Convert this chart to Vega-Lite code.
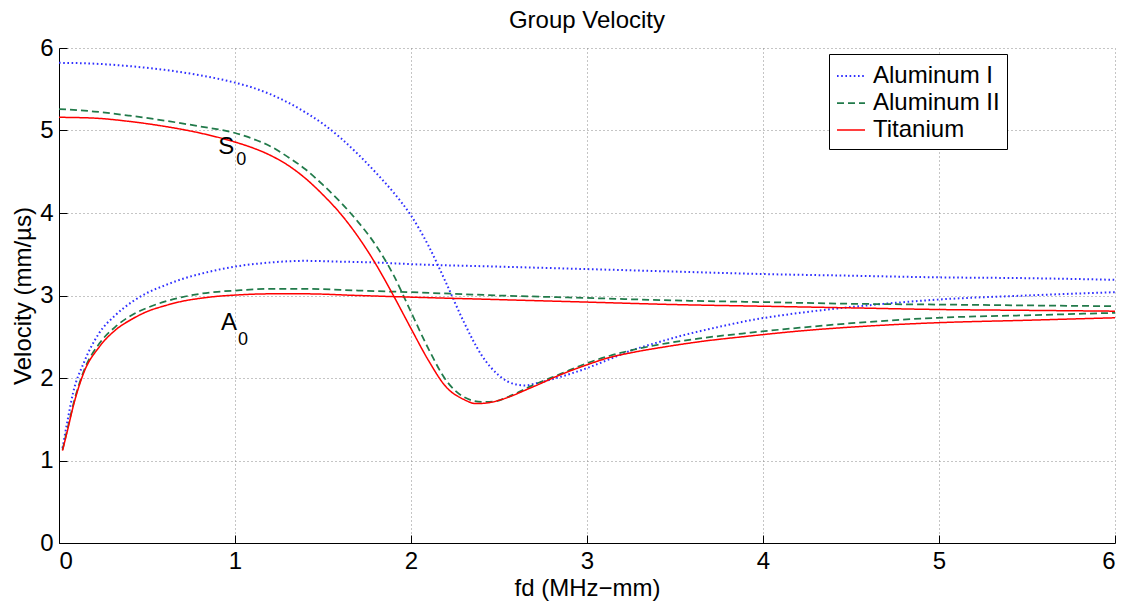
{
  "$schema": "https://vega.github.io/schema/vega-lite/v6.json",
  "autosize": {"type": "none"},
  "padding": {"left": 59, "top": 48, "right": 12, "bottom": 60},
  "width": 1056,
  "height": 495,
  "background": "white",
  "config": {
    "font": "Liberation Sans",
    "view": {"stroke": null},
    "axis": {
      "labelFont": "Liberation Sans",
      "labelFontSize": 24,
      "labelColor": "black",
      "titleFont": "Liberation Sans",
      "titleFontSize": 24,
      "titleFontWeight": "normal",
      "titleColor": "black",
      "domainColor": "black",
      "domainWidth": 1,
      "tickColor": "black",
      "tickSize": -8,
      "tickWidth": 1,
      "gridColor": "#8a8a8a",
      "gridDash": [1, 3],
      "gridWidth": 1,
      "gridOpacity": 1,
      "format": "d"
    },
    "legend": {
      "labelFont": "Liberation Sans",
      "labelFontSize": 24,
      "labelColor": "black",
      "strokeColor": "black",
      "fillColor": "white",
      "padding": 7,
      "symbolType": "stroke",
      "symbolSize": 784,
      "symbolStrokeWidth": 1.6,
      "rowPadding": 0,
      "labelOffset": 7,
      "orient": "none",
      "legendX": 770,
      "legendY": 6
    },
    "title": {"font": "Liberation Sans", "fontSize": 24, "fontWeight": "normal", "color": "black", "offset": 3}
  },
  "title": {"text": "Group Velocity", "anchor": "middle"},
  "datasets": {
    "curves": [
      {"fd": 0.02, "v": 1.15, "material": "Aluminum I", "mode": "A0"},
      {"fd": 0.05, "v": 1.5, "material": "Aluminum I", "mode": "A0"},
      {"fd": 0.08, "v": 1.82, "material": "Aluminum I", "mode": "A0"},
      {"fd": 0.14, "v": 2.18, "material": "Aluminum I", "mode": "A0"},
      {"fd": 0.23, "v": 2.55, "material": "Aluminum I", "mode": "A0"},
      {"fd": 0.32, "v": 2.76, "material": "Aluminum I", "mode": "A0"},
      {"fd": 0.42, "v": 2.93, "material": "Aluminum I", "mode": "A0"},
      {"fd": 0.5, "v": 3.03, "material": "Aluminum I", "mode": "A0"},
      {"fd": 0.61, "v": 3.13, "material": "Aluminum I", "mode": "A0"},
      {"fd": 0.7, "v": 3.2, "material": "Aluminum I", "mode": "A0"},
      {"fd": 0.8, "v": 3.26, "material": "Aluminum I", "mode": "A0"},
      {"fd": 0.9, "v": 3.31, "material": "Aluminum I", "mode": "A0"},
      {"fd": 1.0, "v": 3.35, "material": "Aluminum I", "mode": "A0"},
      {"fd": 1.2, "v": 3.4, "material": "Aluminum I", "mode": "A0"},
      {"fd": 1.4, "v": 3.42, "material": "Aluminum I", "mode": "A0"},
      {"fd": 1.6, "v": 3.41, "material": "Aluminum I", "mode": "A0"},
      {"fd": 1.8, "v": 3.4, "material": "Aluminum I", "mode": "A0"},
      {"fd": 2.0, "v": 3.38, "material": "Aluminum I", "mode": "A0"},
      {"fd": 2.5, "v": 3.35, "material": "Aluminum I", "mode": "A0"},
      {"fd": 3.0, "v": 3.32, "material": "Aluminum I", "mode": "A0"},
      {"fd": 3.5, "v": 3.29, "material": "Aluminum I", "mode": "A0"},
      {"fd": 4.0, "v": 3.26, "material": "Aluminum I", "mode": "A0"},
      {"fd": 4.5, "v": 3.24, "material": "Aluminum I", "mode": "A0"},
      {"fd": 5.0, "v": 3.22, "material": "Aluminum I", "mode": "A0"},
      {"fd": 5.5, "v": 3.21, "material": "Aluminum I", "mode": "A0"},
      {"fd": 6.0, "v": 3.19, "material": "Aluminum I", "mode": "A0"},

      {"fd": 0.0, "v": 5.82, "material": "Aluminum I", "mode": "S0"},
      {"fd": 0.2, "v": 5.81, "material": "Aluminum I", "mode": "S0"},
      {"fd": 0.4, "v": 5.78, "material": "Aluminum I", "mode": "S0"},
      {"fd": 0.6, "v": 5.735, "material": "Aluminum I", "mode": "S0"},
      {"fd": 0.8, "v": 5.67, "material": "Aluminum I", "mode": "S0"},
      {"fd": 1.0, "v": 5.58, "material": "Aluminum I", "mode": "S0"},
      {"fd": 1.1, "v": 5.52, "material": "Aluminum I", "mode": "S0"},
      {"fd": 1.2, "v": 5.44, "material": "Aluminum I", "mode": "S0"},
      {"fd": 1.3, "v": 5.34, "material": "Aluminum I", "mode": "S0"},
      {"fd": 1.4, "v": 5.22, "material": "Aluminum I", "mode": "S0"},
      {"fd": 1.5, "v": 5.08, "material": "Aluminum I", "mode": "S0"},
      {"fd": 1.6, "v": 4.91, "material": "Aluminum I", "mode": "S0"},
      {"fd": 1.7, "v": 4.71, "material": "Aluminum I", "mode": "S0"},
      {"fd": 1.8, "v": 4.49, "material": "Aluminum I", "mode": "S0"},
      {"fd": 1.9, "v": 4.25, "material": "Aluminum I", "mode": "S0"},
      {"fd": 2.0, "v": 3.97, "material": "Aluminum I", "mode": "S0"},
      {"fd": 2.1, "v": 3.6, "material": "Aluminum I", "mode": "S0"},
      {"fd": 2.2, "v": 3.15, "material": "Aluminum I", "mode": "S0"},
      {"fd": 2.3, "v": 2.68, "material": "Aluminum I", "mode": "S0"},
      {"fd": 2.4, "v": 2.28, "material": "Aluminum I", "mode": "S0"},
      {"fd": 2.5, "v": 2.03, "material": "Aluminum I", "mode": "S0"},
      {"fd": 2.6, "v": 1.92, "material": "Aluminum I", "mode": "S0"},
      {"fd": 2.65, "v": 1.91, "material": "Aluminum I", "mode": "S0"},
      {"fd": 2.7, "v": 1.93, "material": "Aluminum I", "mode": "S0"},
      {"fd": 2.81, "v": 1.99, "material": "Aluminum I", "mode": "S0"},
      {"fd": 3.0, "v": 2.12, "material": "Aluminum I", "mode": "S0"},
      {"fd": 3.13, "v": 2.23, "material": "Aluminum I", "mode": "S0"},
      {"fd": 3.26, "v": 2.34, "material": "Aluminum I", "mode": "S0"},
      {"fd": 3.4, "v": 2.43, "material": "Aluminum I", "mode": "S0"},
      {"fd": 3.55, "v": 2.52, "material": "Aluminum I", "mode": "S0"},
      {"fd": 3.75, "v": 2.62, "material": "Aluminum I", "mode": "S0"},
      {"fd": 3.93, "v": 2.7, "material": "Aluminum I", "mode": "S0"},
      {"fd": 4.21, "v": 2.79, "material": "Aluminum I", "mode": "S0"},
      {"fd": 4.5, "v": 2.86, "material": "Aluminum I", "mode": "S0"},
      {"fd": 4.99, "v": 2.95, "material": "Aluminum I", "mode": "S0"},
      {"fd": 5.5, "v": 3.0, "material": "Aluminum I", "mode": "S0"},
      {"fd": 6.0, "v": 3.04, "material": "Aluminum I", "mode": "S0"},

      {"fd": 0.02, "v": 1.13, "material": "Aluminum II", "mode": "A0"},
      {"fd": 0.05, "v": 1.4, "material": "Aluminum II", "mode": "A0"},
      {"fd": 0.08, "v": 1.67, "material": "Aluminum II", "mode": "A0"},
      {"fd": 0.14, "v": 2.08, "material": "Aluminum II", "mode": "A0"},
      {"fd": 0.23, "v": 2.42, "material": "Aluminum II", "mode": "A0"},
      {"fd": 0.32, "v": 2.62, "material": "Aluminum II", "mode": "A0"},
      {"fd": 0.42, "v": 2.77, "material": "Aluminum II", "mode": "A0"},
      {"fd": 0.5, "v": 2.85, "material": "Aluminum II", "mode": "A0"},
      {"fd": 0.6, "v": 2.925, "material": "Aluminum II", "mode": "A0"},
      {"fd": 0.7, "v": 2.98, "material": "Aluminum II", "mode": "A0"},
      {"fd": 0.8, "v": 3.02, "material": "Aluminum II", "mode": "A0"},
      {"fd": 0.9, "v": 3.045, "material": "Aluminum II", "mode": "A0"},
      {"fd": 1.0, "v": 3.06, "material": "Aluminum II", "mode": "A0"},
      {"fd": 1.2, "v": 3.08, "material": "Aluminum II", "mode": "A0"},
      {"fd": 1.4, "v": 3.08, "material": "Aluminum II", "mode": "A0"},
      {"fd": 1.7, "v": 3.06, "material": "Aluminum II", "mode": "A0"},
      {"fd": 2.0, "v": 3.04, "material": "Aluminum II", "mode": "A0"},
      {"fd": 2.5, "v": 3.0, "material": "Aluminum II", "mode": "A0"},
      {"fd": 3.0, "v": 2.97, "material": "Aluminum II", "mode": "A0"},
      {"fd": 3.5, "v": 2.94, "material": "Aluminum II", "mode": "A0"},
      {"fd": 4.0, "v": 2.92, "material": "Aluminum II", "mode": "A0"},
      {"fd": 4.5, "v": 2.9, "material": "Aluminum II", "mode": "A0"},
      {"fd": 5.0, "v": 2.89, "material": "Aluminum II", "mode": "A0"},
      {"fd": 5.5, "v": 2.88, "material": "Aluminum II", "mode": "A0"},
      {"fd": 6.0, "v": 2.87, "material": "Aluminum II", "mode": "A0"},

      {"fd": 0.0, "v": 5.26, "material": "Aluminum II", "mode": "S0"},
      {"fd": 0.2, "v": 5.23, "material": "Aluminum II", "mode": "S0"},
      {"fd": 0.4, "v": 5.18, "material": "Aluminum II", "mode": "S0"},
      {"fd": 0.6, "v": 5.12, "material": "Aluminum II", "mode": "S0"},
      {"fd": 0.8, "v": 5.05, "material": "Aluminum II", "mode": "S0"},
      {"fd": 1.0, "v": 4.97, "material": "Aluminum II", "mode": "S0"},
      {"fd": 1.1, "v": 4.9, "material": "Aluminum II", "mode": "S0"},
      {"fd": 1.2, "v": 4.81, "material": "Aluminum II", "mode": "S0"},
      {"fd": 1.3, "v": 4.68, "material": "Aluminum II", "mode": "S0"},
      {"fd": 1.4, "v": 4.53, "material": "Aluminum II", "mode": "S0"},
      {"fd": 1.5, "v": 4.34, "material": "Aluminum II", "mode": "S0"},
      {"fd": 1.6, "v": 4.13, "material": "Aluminum II", "mode": "S0"},
      {"fd": 1.7, "v": 3.89, "material": "Aluminum II", "mode": "S0"},
      {"fd": 1.8, "v": 3.61, "material": "Aluminum II", "mode": "S0"},
      {"fd": 1.9, "v": 3.25, "material": "Aluminum II", "mode": "S0"},
      {"fd": 2.0, "v": 2.8, "material": "Aluminum II", "mode": "S0"},
      {"fd": 2.1, "v": 2.35, "material": "Aluminum II", "mode": "S0"},
      {"fd": 2.2, "v": 1.97, "material": "Aluminum II", "mode": "S0"},
      {"fd": 2.3, "v": 1.77, "material": "Aluminum II", "mode": "S0"},
      {"fd": 2.4, "v": 1.71, "material": "Aluminum II", "mode": "S0"},
      {"fd": 2.47, "v": 1.715, "material": "Aluminum II", "mode": "S0"},
      {"fd": 2.55, "v": 1.77, "material": "Aluminum II", "mode": "S0"},
      {"fd": 2.69, "v": 1.91, "material": "Aluminum II", "mode": "S0"},
      {"fd": 2.85, "v": 2.05, "material": "Aluminum II", "mode": "S0"},
      {"fd": 3.0, "v": 2.18, "material": "Aluminum II", "mode": "S0"},
      {"fd": 3.13, "v": 2.27, "material": "Aluminum II", "mode": "S0"},
      {"fd": 3.26, "v": 2.34, "material": "Aluminum II", "mode": "S0"},
      {"fd": 3.45, "v": 2.42, "material": "Aluminum II", "mode": "S0"},
      {"fd": 3.64, "v": 2.48, "material": "Aluminum II", "mode": "S0"},
      {"fd": 3.93, "v": 2.55, "material": "Aluminum II", "mode": "S0"},
      {"fd": 4.21, "v": 2.61, "material": "Aluminum II", "mode": "S0"},
      {"fd": 4.6, "v": 2.68, "material": "Aluminum II", "mode": "S0"},
      {"fd": 4.99, "v": 2.73, "material": "Aluminum II", "mode": "S0"},
      {"fd": 5.5, "v": 2.76, "material": "Aluminum II", "mode": "S0"},
      {"fd": 6.0, "v": 2.79, "material": "Aluminum II", "mode": "S0"},

      {"fd": 0.02, "v": 1.12, "material": "Titanium", "mode": "A0"},
      {"fd": 0.05, "v": 1.38, "material": "Titanium", "mode": "A0"},
      {"fd": 0.08, "v": 1.65, "material": "Titanium", "mode": "A0"},
      {"fd": 0.14, "v": 2.06, "material": "Titanium", "mode": "A0"},
      {"fd": 0.23, "v": 2.38, "material": "Titanium", "mode": "A0"},
      {"fd": 0.32, "v": 2.58, "material": "Titanium", "mode": "A0"},
      {"fd": 0.42, "v": 2.72, "material": "Titanium", "mode": "A0"},
      {"fd": 0.5, "v": 2.805, "material": "Titanium", "mode": "A0"},
      {"fd": 0.6, "v": 2.875, "material": "Titanium", "mode": "A0"},
      {"fd": 0.7, "v": 2.93, "material": "Titanium", "mode": "A0"},
      {"fd": 0.8, "v": 2.965, "material": "Titanium", "mode": "A0"},
      {"fd": 0.9, "v": 2.99, "material": "Titanium", "mode": "A0"},
      {"fd": 1.0, "v": 3.005, "material": "Titanium", "mode": "A0"},
      {"fd": 1.2, "v": 3.02, "material": "Titanium", "mode": "A0"},
      {"fd": 1.4, "v": 3.02, "material": "Titanium", "mode": "A0"},
      {"fd": 1.7, "v": 3.0, "material": "Titanium", "mode": "A0"},
      {"fd": 2.0, "v": 2.98, "material": "Titanium", "mode": "A0"},
      {"fd": 2.5, "v": 2.95, "material": "Titanium", "mode": "A0"},
      {"fd": 3.0, "v": 2.92, "material": "Titanium", "mode": "A0"},
      {"fd": 3.5, "v": 2.89, "material": "Titanium", "mode": "A0"},
      {"fd": 4.0, "v": 2.87, "material": "Titanium", "mode": "A0"},
      {"fd": 4.5, "v": 2.85, "material": "Titanium", "mode": "A0"},
      {"fd": 5.0, "v": 2.83, "material": "Titanium", "mode": "A0"},
      {"fd": 5.5, "v": 2.82, "material": "Titanium", "mode": "A0"},
      {"fd": 6.0, "v": 2.81, "material": "Titanium", "mode": "A0"},

      {"fd": 0.0, "v": 5.16, "material": "Titanium", "mode": "S0"},
      {"fd": 0.2, "v": 5.15, "material": "Titanium", "mode": "S0"},
      {"fd": 0.4, "v": 5.11, "material": "Titanium", "mode": "S0"},
      {"fd": 0.6, "v": 5.05, "material": "Titanium", "mode": "S0"},
      {"fd": 0.8, "v": 4.97, "material": "Titanium", "mode": "S0"},
      {"fd": 1.0, "v": 4.86, "material": "Titanium", "mode": "S0"},
      {"fd": 1.1, "v": 4.79, "material": "Titanium", "mode": "S0"},
      {"fd": 1.2, "v": 4.7, "material": "Titanium", "mode": "S0"},
      {"fd": 1.3, "v": 4.58, "material": "Titanium", "mode": "S0"},
      {"fd": 1.4, "v": 4.42, "material": "Titanium", "mode": "S0"},
      {"fd": 1.5, "v": 4.22, "material": "Titanium", "mode": "S0"},
      {"fd": 1.6, "v": 3.99, "material": "Titanium", "mode": "S0"},
      {"fd": 1.7, "v": 3.71, "material": "Titanium", "mode": "S0"},
      {"fd": 1.8, "v": 3.38, "material": "Titanium", "mode": "S0"},
      {"fd": 1.9, "v": 3.0, "material": "Titanium", "mode": "S0"},
      {"fd": 2.0, "v": 2.6, "material": "Titanium", "mode": "S0"},
      {"fd": 2.1, "v": 2.21, "material": "Titanium", "mode": "S0"},
      {"fd": 2.2, "v": 1.89, "material": "Titanium", "mode": "S0"},
      {"fd": 2.3, "v": 1.74, "material": "Titanium", "mode": "S0"},
      {"fd": 2.37, "v": 1.69, "material": "Titanium", "mode": "S0"},
      {"fd": 2.44, "v": 1.7, "material": "Titanium", "mode": "S0"},
      {"fd": 2.5, "v": 1.73, "material": "Titanium", "mode": "S0"},
      {"fd": 2.69, "v": 1.89, "material": "Titanium", "mode": "S0"},
      {"fd": 2.85, "v": 2.04, "material": "Titanium", "mode": "S0"},
      {"fd": 3.0, "v": 2.16, "material": "Titanium", "mode": "S0"},
      {"fd": 3.13, "v": 2.25, "material": "Titanium", "mode": "S0"},
      {"fd": 3.26, "v": 2.31, "material": "Titanium", "mode": "S0"},
      {"fd": 3.45, "v": 2.38, "material": "Titanium", "mode": "S0"},
      {"fd": 3.64, "v": 2.44, "material": "Titanium", "mode": "S0"},
      {"fd": 3.93, "v": 2.51, "material": "Titanium", "mode": "S0"},
      {"fd": 4.21, "v": 2.57, "material": "Titanium", "mode": "S0"},
      {"fd": 4.6, "v": 2.63, "material": "Titanium", "mode": "S0"},
      {"fd": 4.99, "v": 2.67, "material": "Titanium", "mode": "S0"},
      {"fd": 5.5, "v": 2.7, "material": "Titanium", "mode": "S0"},
      {"fd": 6.0, "v": 2.73, "material": "Titanium", "mode": "S0"}
    ],
    "letters": [
      {"fd": 0.95, "v": 4.8, "t": "S"},
      {"fd": 0.966, "v": 2.67, "t": "A"}
    ],
    "subs": [
      {"fd": 1.035, "v": 4.64, "t": "0"},
      {"fd": 1.045, "v": 2.46, "t": "0"}
    ]
  },
  "layer": [
    {
      "data": {"name": "curves"},
      "mark": {"type": "line", "interpolate": "monotone"},
      "encoding": {
        "x": {"field": "fd", "type": "quantitative", "scale": {"domain": [0, 6], "nice": false},
              "axis": {"values": [0, 1, 2, 3, 4, 5, 6], "title": "fd (MHz−mm)", "labelPadding": 14, "titlePadding": 3}},
        "y": {"field": "v", "type": "quantitative", "scale": {"domain": [0, 6], "nice": false},
              "axis": {"values": [0, 1, 2, 3, 4, 5, 6], "title": "Velocity (mm/µs)", "labelPadding": 14, "titlePadding": 4}},
        "color": {"field": "material", "type": "nominal",
                  "scale": {"domain": ["Aluminum I", "Aluminum II", "Titanium"], "range": ["#2f2fff", "#217a4a", "#ff0000"]},
                  "legend": {"title": null}},
        "strokeDash": {"field": "material", "type": "nominal",
                       "scale": {"domain": ["Aluminum I", "Aluminum II", "Titanium"], "range": [[1.6, 2.6], [7, 4], [1, 0]]},
                       "legend": {"title": null}},
        "strokeWidth": {"field": "material", "type": "nominal",
                        "scale": {"domain": ["Aluminum I", "Aluminum II", "Titanium"], "range": [2, 1.5, 1.4]},
                        "legend": null},
        "detail": {"field": "mode", "type": "nominal"}
      }
    },
    {
      "data": {"name": "letters"},
      "mark": {"type": "text", "font": "Liberation Sans", "fontSize": 24, "color": "black", "align": "center", "baseline": "middle"},
      "encoding": {
        "x": {"field": "fd", "type": "quantitative"},
        "y": {"field": "v", "type": "quantitative"},
        "text": {"field": "t"}
      }
    },
    {
      "data": {"name": "subs"},
      "mark": {"type": "text", "font": "Liberation Sans", "fontSize": 18, "color": "black", "align": "center", "baseline": "middle"},
      "encoding": {
        "x": {"field": "fd", "type": "quantitative"},
        "y": {"field": "v", "type": "quantitative"},
        "text": {"field": "t"}
      }
    }
  ]
}
